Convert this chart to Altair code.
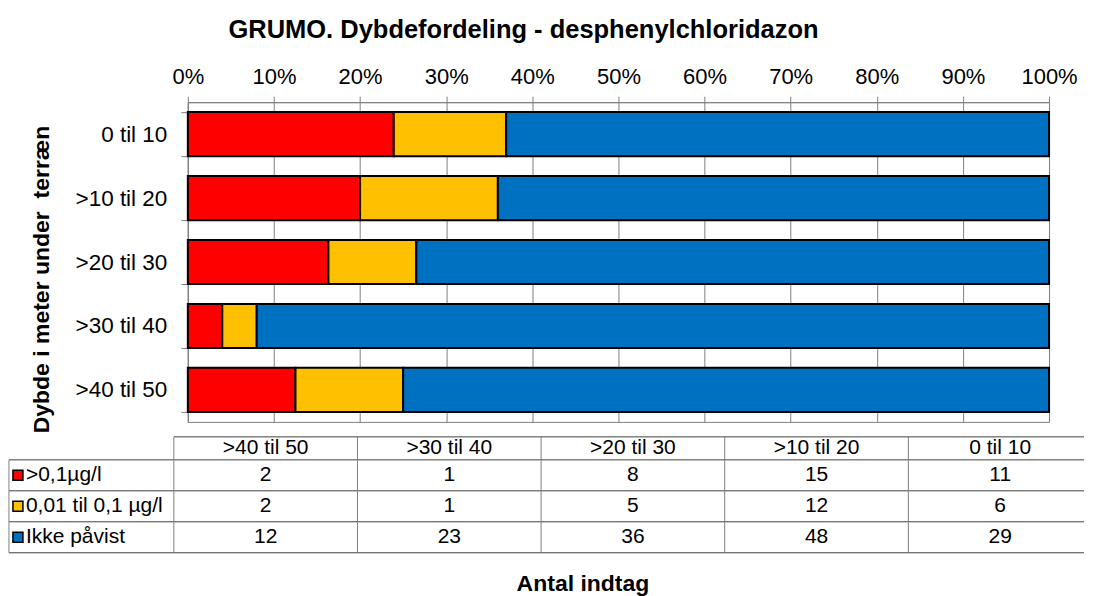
import altair as alt
import pandas as pd

# ---------------- data ----------------
depths = ["0 til 10", ">10 til 20", ">20 til 30", ">30 til 40", ">40 til 50"]
series = [">0,1µg/l", "0,01 til 0,1 µg/l", "Ikke påvist"]
colors = ["#FF0000", "#FFC000", "#0070C0"]
over_01 = [11, 15, 8, 1, 2]          # >0,1 µg/l   (per depth, order of `depths`)
between = [6, 12, 5, 1, 2]           # 0,01 til 0,1 µg/l
not_found = [29, 48, 36, 23, 12]     # Ikke påvist
table_cols = [">40 til 50", ">30 til 40", ">20 til 30", ">10 til 20", "0 til 10"]
pct_ticks = [0, 0.1, 0.2, 0.3, 0.4, 0.5, 0.6, 0.7, 0.8, 0.9, 1.0]

title_text = "GRUMO. Dybdefordeling - desphenylchloridazon"
y_title = "Dybde i meter under\u00a0 terræn"
x_title = "Antal indtag"

FONT = "Liberation Sans"
GRID = "#808080"
all_vals = [over_01, between, not_found]

# ---------------- bar chart ----------------
bar_rows = []
for si, (s, vals) in enumerate(zip(series, all_vals)):
    for d, v in zip(depths, vals):
        bar_rows.append({"depth": d, "series": s, "count": v, "ord": si})
bar_df = pd.DataFrame(bar_rows)

bars = alt.Chart(bar_df).mark_bar(stroke="black", strokeWidth=2).encode(
    x=alt.X("count:Q", stack="normalize",
            scale=alt.Scale(domain=[0, 1], nice=False),
            axis=alt.Axis(orient="top", format=".0%", values=pct_ticks, title=None,
                          grid=True, gridColor=GRID, gridWidth=1,
                          domainColor=GRID, tickColor=GRID, tickSize=6,
                          labelFontSize=22, labelColor="black", labelPadding=8,
                          labelFont=FONT, labelFlush=False, labelOverlap=False)),
    y=alt.Y("depth:N", sort=depths,
            scale=alt.Scale(paddingInner=0.31, paddingOuter=0.155),
            axis=alt.Axis(title=y_title, tickBand="extent", tickSize=7,
                          tickColor=GRID, domainColor=GRID,
                          labelFontSize=22.5, labelColor="black", labelPadding=14,
                          labelFont=FONT,
                          titleFontSize=23, titleFontWeight="bold", titleFont=FONT,
                          titleColor="black", titleAngle=270, titleAlign="center",
                          titleBaseline="middle", titleX=-146, titleY=177)),
    color=alt.Color("series:N", scale=alt.Scale(domain=series, range=colors), legend=None),
    order=alt.Order("ord:Q", sort="ascending"),
).properties(
    width=862, height=320,
    view=alt.ViewBackground(stroke=GRID, strokeWidth=1),
    title=alt.TitleParams(text=title_text, fontSize=25.5, fontWeight="bold", font=FONT,
                          color="black", anchor="middle", dx=-95, offset=22),
)

# ---------------- data table ----------------
HEADER_TOP = -0.742     # header row height relative to a data row
LABEL_EDGE = -0.898     # left edge of the label column in column units
X_MIN = 0.0762          # table grid starts slightly left of the plot origin
TABLE_W = 897
COL_W = 183.8
X_MAX = X_MIN + TABLE_W / COL_W   # right edge (table runs off the picture)

cell_rows, head_rows, lab_rows = [], [], []
for r, (s, vals) in enumerate(zip(series, all_vals)):
    lab_rows.append({"x": LABEL_EDGE, "y": r + 0.5, "text": s, "series": s})
    for c, col in enumerate(table_cols):
        cell_rows.append({"x": c + 0.5, "y": r + 0.5, "text": str(vals[depths.index(col)])})
for c, col in enumerate(table_cols):
    head_rows.append({"x": c + 0.5, "y": HEADER_TOP / 2, "text": col})

nrows = len(series)
ncols = len(table_cols)
h_rules = [{"y": HEADER_TOP, "x": 0, "x2": X_MAX}] + \
          [{"y": r, "x": LABEL_EDGE, "x2": X_MAX} for r in range(nrows + 1)]
v_rules = [{"x": LABEL_EDGE, "y": 0, "y2": nrows}] + \
          [{"x": c, "y": HEADER_TOP, "y2": nrows} for c in range(ncols)]

x_axis = alt.Axis(title=x_title, labels=False, ticks=False, domain=False, grid=False,
                  titleFontSize=23, titleFontWeight="bold", titleFont=FONT,
                  titleColor="black", titleAlign="center", titleBaseline="middle",
                  titleX=395, titleY=31)
xs = alt.Scale(domain=[X_MIN, X_MAX], nice=False, zero=False)
ys = alt.Scale(domain=[HEADER_TOP, nrows], nice=False, zero=False, reverse=True)


def X(f):
    return alt.X(f, type="quantitative", scale=xs, axis=x_axis)


def Y(f):
    return alt.Y(f, type="quantitative", scale=ys, axis=None)


hl = alt.Chart(pd.DataFrame(h_rules)).mark_rule(color="#404040", strokeWidth=1).encode(
    x=X("x"), x2="x2:Q", y=Y("y"))
vl = alt.Chart(pd.DataFrame(v_rules)).mark_rule(color=GRID, strokeWidth=1).encode(
    x=X("x"), y=Y("y"), y2="y2:Q")
cells = alt.Chart(pd.DataFrame(cell_rows + head_rows)).mark_text(
    fontSize=21, font=FONT, color="black", align="center", baseline="middle").encode(
    x=X("x"), y=Y("y"), text="text:N")
labels = alt.Chart(pd.DataFrame(lab_rows)).mark_text(
    fontSize=21, font=FONT, color="black", align="left", baseline="middle", dx=17).encode(
    x=X("x"), y=Y("y"), text="text:N")
swatches = alt.Chart(pd.DataFrame(lab_rows)).mark_point(
    shape="square", size=100, filled=True, stroke="black", strokeWidth=1.5,
    opacity=1, xOffset=9).encode(
    x=X("x"), y=Y("y"),
    fill=alt.Fill("series:N", scale=alt.Scale(domain=series, range=colors), legend=None))

table = alt.layer(hl, vl, cells, labels, swatches).properties(width=TABLE_W, height=116)

chart = alt.vconcat(bars, table, spacing=2).properties(
    padding={"left": 0, "top": 9, "right": 0, "bottom": 0}
).configure(font=FONT).configure_view(strokeWidth=0).resolve_scale(color="independent")

chart.save("out.html", embed_options={"renderer": "svg", "actions": False})
